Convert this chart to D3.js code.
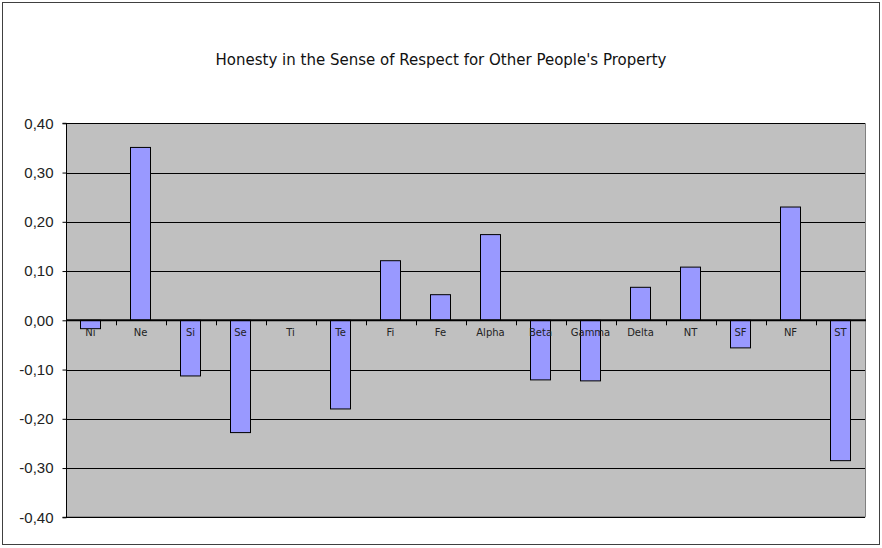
<!DOCTYPE html>
<html><head><meta charset="utf-8">
<script src="https://cdn.jsdelivr.net/npm/d3@7"></script>
<style>body{margin:0;background:#fff;}svg{display:block;}</style>
</head><body>
<script>
const categories = ["Ni","Ne","Si","Se","Ti","Te","Fi","Fe","Alpha","Beta","Gamma","Delta","NT","SF","NF","ST"];
const values = [-0.017,0.351,-0.113,-0.228,0,-0.180,0.121,0.052,0.174,-0.121,-0.123,0.067,0.108,-0.056,0.230,-0.285];
const yTicks = [-0.4,-0.3,-0.2,-0.1,0,0.1,0.2,0.3,0.4];
const title = "Honesty in the Sense of Respect for Other People's Property";

const W = 882, H = 548;
const svg = d3.select("body").append("svg").attr("width", W).attr("height", H);
svg.append("rect").attr("x",2.5).attr("y",2.5).attr("width",877).attr("height",542)
  .attr("fill","#fff").attr("stroke","#404040").attr("stroke-width",1);

const L = 66, R = 866, T = 123.3, B = 517.3;
const x = d3.scaleBand().domain(categories).range([L, R]).paddingInner(0.6).paddingOuter(0.3);
const y = d3.scaleLinear().domain([-0.4, 0.4]).range([B, T]);

svg.append("text").attr("x", 441).attr("y", 64.5).attr("text-anchor","middle")
  .attr("font-family","DejaVu Sans").attr("font-size", 15).attr("fill","#111").text(title);

// plot area
svg.append("rect").attr("x",L).attr("y",T).attr("width",R-L).attr("height",B-T).attr("fill","#c0c0c0");
svg.append("path").attr("d",`M${R-0.5},${T}V${B-0.5}H${L}`).attr("fill","none").attr("stroke","#808080");

// grid
svg.append("g").selectAll("line").data(yTicks.filter(d=>d!==0)).join("line")
  .attr("x1",L).attr("x2",R-1).attr("y1",d=>Math.round(y(d))+0.5).attr("y2",d=>Math.round(y(d))+0.5)
  .attr("stroke","#000").attr("stroke-width",1);

// y axis
const yAxis = d3.axisLeft(y).tickValues(yTicks).tickSize(4).tickPadding(9)
  .tickFormat(d => d3.format(".2f")(d).replace(".", ",").replace("−","-"));
const gy = svg.append("g").attr("transform",`translate(${L+0.5},0)`).call(yAxis);
gy.selectAll("text").attr("font-family","Liberation Sans, Arial").attr("font-size",15).attr("fill","#222");
gy.selectAll("line,path").attr("stroke","#000");
gy.select(".domain").attr("d",`M-4,${y(0.4)}H0V${y(-0.4)}H-4`);

// bars
const barData = values.map((v,i)=>({c:categories[i],v}));
svg.append("g").selectAll("rect").data(barData).join("rect")
  .attr("x",d=>Math.round(x(d.c))-0.5).attr("width",Math.round(x.bandwidth()))
  .attr("y",d=>Math.min(y(d.v),y(0))).attr("height",d=>Math.abs(y(d.v)-y(0)))
  .attr("fill",d=>d.v===0?"none":"#9999ff").attr("stroke",d=>d.v===0?"none":"#000").attr("stroke-width",1);

// x ticks at category boundaries
const bounds = categories.slice(1).map((c,i)=>L + (i+1)*(R-L)/categories.length);
svg.append("g").selectAll("line").data(bounds).join("line")
  .attr("x1",d=>Math.round(d)+0.5).attr("x2",d=>Math.round(d)+0.5)
  .attr("y1",y(0)).attr("y2",y(0)+5).attr("stroke","#000");
// zero line
svg.append("line").attr("x1",L).attr("x2",R).attr("y1",y(0)).attr("y2",y(0))
  .attr("stroke","#000").attr("stroke-width",2);

// category labels
svg.append("g").selectAll("text").data(categories).join("text")
  .attr("x",d=>x(d)+x.bandwidth()/2-0.5).attr("y",y(0)+16).attr("text-anchor","middle")
  .attr("font-family","DejaVu Sans").attr("font-size",10).attr("fill","#222").text(d=>d);
</script>
</body></html>
